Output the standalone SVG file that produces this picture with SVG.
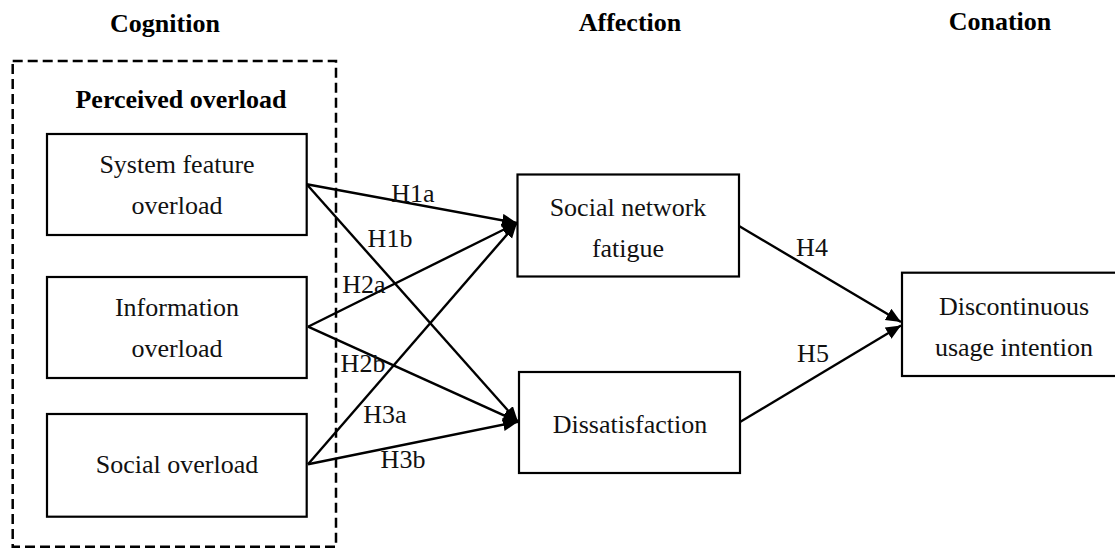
<svg xmlns="http://www.w3.org/2000/svg" width="1115" height="550" viewBox="0 0 1115 550">
<defs>
<marker id="arr" markerUnits="userSpaceOnUse" markerWidth="16" markerHeight="14" refX="15" refY="6.5" orient="auto">
<path d="M0,0 L15,6.5 L0,13 Z" fill="#000"/>
</marker>
<style>
.box{fill:#fff;stroke:#000;stroke-width:2.2}
.t{font-family:"Liberation Serif","Times New Roman",serif;font-size:26px;fill:#111;text-anchor:middle}
.h{font-family:"Liberation Serif","Times New Roman",serif;font-size:26px;font-weight:bold;fill:#000;text-anchor:middle}
.c{stroke:#000;stroke-width:2.4;fill:none;marker-end:url(#arr)}
</style>
</defs>
<rect width="1115" height="550" fill="#fff"/>
<text class="h" x="165" y="32">Cognition</text>
<text class="h" x="630" y="31">Affection</text>
<text class="h" x="1000" y="30">Conation</text>
<g id="perceived-overload">
<rect x="12.7" y="61" width="323.3" height="485.7" fill="none" stroke="#000" stroke-width="2.5" stroke-dasharray="10 5"/>
<text class="h" x="181" y="108">Perceived overload</text>
</g>
<g id="system-feature-overload">
<rect class="box" x="47" y="134" width="259.7" height="101"/>
<text class="t" x="177" y="173">System feature</text>
<text class="t" x="177" y="214">overload</text>
</g>
<g id="information-overload">
<rect class="box" x="47" y="277" width="259.7" height="101"/>
<text class="t" x="177" y="316">Information</text>
<text class="t" x="177" y="357">overload</text>
</g>
<g id="social-overload">
<rect class="box" x="47" y="414" width="259.7" height="102.7"/>
<text class="t" x="177" y="473">Social overload</text>
</g>
<g id="social-network-fatigue">
<rect class="box" x="517.5" y="174.5" width="221.5" height="102"/>
<text class="t" x="628" y="215.5">Social network</text>
<text class="t" x="628" y="257">fatigue</text>
</g>
<g id="dissatisfaction">
<rect class="box" x="519" y="372" width="221" height="101"/>
<text class="t" x="630" y="433">Dissatisfaction</text>
</g>
<g id="discontinuous-usage-intention">
<rect class="box" x="902" y="272.7" width="225" height="103.3"/>
<text class="t" x="1014" y="315">Discontinuous</text>
<text class="t" x="1014" y="356">usage intention</text>
</g>
<g id="connectors">
<line class="c" x1="306.7" y1="184.3" x2="517" y2="223"/>
<line class="c" x1="306.7" y1="184.3" x2="518" y2="421.7"/>
<line class="c" x1="308" y1="326.7" x2="517" y2="223"/>
<line class="c" x1="308" y1="326.7" x2="518" y2="421.7"/>
<line class="c" x1="308" y1="464.3" x2="517" y2="223"/>
<line class="c" x1="308" y1="464.3" x2="518" y2="421.7"/>
<line class="c" x1="739" y1="226" x2="901" y2="322"/>
<line class="c" x1="740" y1="422" x2="901" y2="325.5"/>
<text class="t" x="413" y="201.7">H1a</text>
<text class="t" x="390" y="246.7">H1b</text>
<text class="t" x="364" y="292.7">H2a</text>
<text class="t" x="363" y="371.7">H2b</text>
<text class="t" x="385" y="423.3">H3a</text>
<text class="t" x="403" y="468.3">H3b</text>
<text class="t" x="812" y="256">H4</text>
<text class="t" x="813" y="361.7">H5</text>
</g>
</svg>
